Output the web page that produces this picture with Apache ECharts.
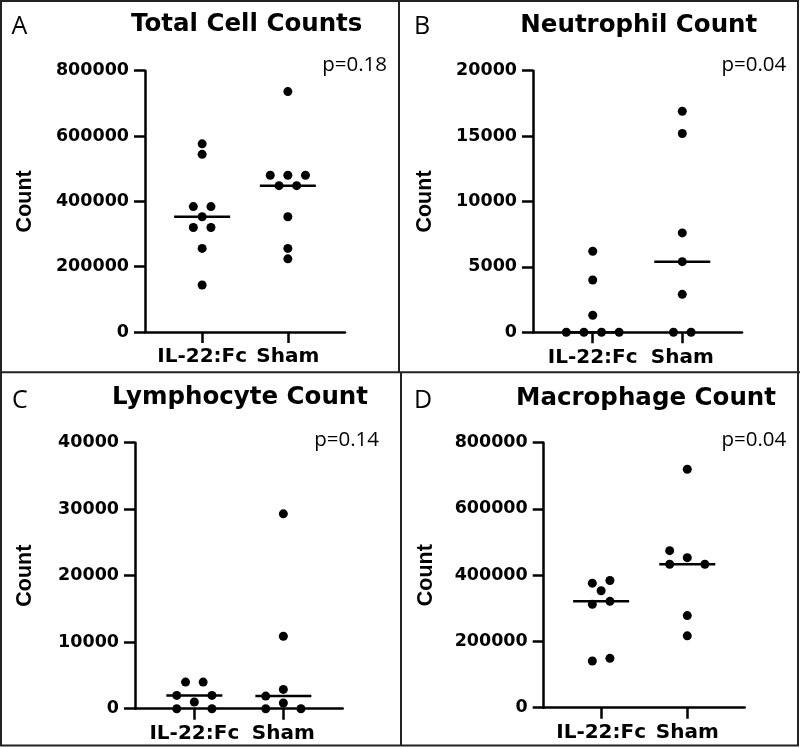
<!DOCTYPE html>
<html>
<head>
<meta charset="utf-8">
<script src="https://cdn.jsdelivr.net/npm/echarts@6/dist/echarts.min.js"></script>
<style>
html,body{margin:0;padding:0;background:#fff;}
#chart{width:800px;height:748px;}
</style>
</head>
<body>
<div id="chart"></div>
<script>
// ---------------- data ----------------
const groups = ['IL-22:Fc', 'Sham'];
const panelTitles = ['Total Cell Counts', 'Neutrophil Count', 'Lymphocyte Count', 'Macrophage Count'];
const panelLetters = ['A', 'B', 'C', 'D'];
const pValues = ['p=0.18', 'p=0.04', 'p=0.14', 'p=0.04'];
const yAxisName = 'Count';
const yMax = [800000, 20000, 40000, 800000];
const yStep = [200000, 5000, 10000, 200000];

const totalIL   = [576000, 544000, 384000, 384000, 353000, 320000, 320000, 256000, 144000];
const totalSham = [736000, 480000, 480000, 480000, 448000, 448000, 353000, 256000, 224000];
const neutIL    = [6200, 4000, 1300, 0, 0, 0, 0];
const neutSham  = [16900, 15200, 7600, 5400, 2900, 0, 0];
const lymphIL   = [4000, 4000, 2000, 2000, 1000, 0, 0];
const lymphSham = [29300, 10900, 2900, 1900, 850, 0, 0];
const macroIL   = [384000, 376000, 353000, 321000, 312000, 149000, 141000];
const macroSham = [720000, 474000, 453000, 433000, 433000, 278000, 217000];

const panelData = [
  [totalIL, totalSham],
  [neutIL, neutSham],
  [lymphIL, lymphSham],
  [macroIL, macroSham]
];

// ---------------- layout ----------------
const grids = [
  {left: 145,   top: 70.7,  width: 200,   height: 261.3},
  {left: 533,   top: 70.7,  width: 209,   height: 261.6},
  {left: 135,   top: 442.7, width: 207.7, height: 266},
  {left: 543.7, top: 442.7, width: 201,   height: 265}
];
const nameGaps = [109, 97, 99, 107];
const titlePos = [[246.7, 24.5], [638.8, 25.5], [240, 398], [646, 399]];
const letterPos = [[11.5, 27], [414, 27], [12, 400.5], [414, 401]];
const pPos = [[387, 65], [786.3, 65], [379, 440.5], [786.3, 440]];
const X_MIN = -2 / 3, X_MAX = 5 / 3;
const SLOT_PX = 8.8;      // half spacing between neighbouring dots
const ROW_TOL = 3.5;      // px: values closer than this share a row
const COLL = 7.5;         // px: vertical collision distance
const MED_HALF_PX = 28;   // half-length of median bar

function median(arr) {
  const s = arr.slice().sort((a, b) => a - b);
  const n = s.length;
  return n % 2 ? s[(n - 1) / 2] : (s[n / 2 - 1] + s[n / 2]) / 2;
}

// simple symmetric beeswarm, returns slot index per value
function swarm(vals, pxPerVal) {
  const idx = vals.map((v, i) => i).sort((a, b) => vals[a] - vals[b]);
  const rows = [];
  for (const i of idx) {
    const last = rows[rows.length - 1];
    if (last && (vals[i] - vals[last[0]]) * pxPerVal < ROW_TOL) last.push(i);
    else rows.push([i]);
  }
  const placed = [];
  const slot = new Array(vals.length).fill(0);
  const collides = (y, k) => placed.some(p => Math.abs(p.y - y) < COLL && Math.abs(p.k - k) < 1.999);
  const order = rows.filter(r => r.length % 2 === 1).concat(rows.filter(r => r.length % 2 === 0));
  for (const r of order) {
    const ys = r.map(i => vals[i] * pxPerVal);
    const n = r.length;
    let ks = null;
    if (n === 1) {
      for (const k of [0, -1, 1, -2, 2, -3, 3, -4, 4, -5, 5]) {
        if (!collides(ys[0], k)) { ks = [k]; break; }
      }
      if (!ks) ks = [0];
    } else {
      for (let e = 0; e < 10; e++) {
        const cand = r.map((_, j) => { const c = (j - (n - 1) / 2) * 2; return c + Math.sign(c) * e; });
        if (cand.every((k, j) => !collides(ys[j], k))) { ks = cand; break; }
      }
      if (!ks) ks = r.map((_, j) => (j - (n - 1) / 2) * 2);
    }
    r.forEach((i, j) => { slot[i] = ks[j]; placed.push({y: ys[j], k: ks[j]}); });
  }
  return slot;
}

const FONT_AX = '"DejaVu Sans", sans-serif';
const option = {
  animation: false,
  backgroundColor: '#fff',
  grid: grids.map(g => Object.assign({containLabel: false}, g)),
  xAxis: grids.map((g, p) => ({
    type: 'value', gridIndex: p, min: X_MIN, max: X_MAX,
    axisLine: {show: true, onZero: false, lineStyle: {color: '#000', width: 2.5}},
    axisTick: {show: true, customValues: [0, 1], length: 11, lineStyle: {color: '#000', width: 2.5}},
    axisLabel: {show: true, customValues: [0, 1], formatter: v => groups[Math.round(v)] || '',
      fontFamily: FONT_AX, fontWeight: 'bold', fontSize: 20, color: '#000', margin: 15},
    splitLine: {show: false}
  })),
  yAxis: grids.map((g, p) => ({
    type: 'value', gridIndex: p, min: 0, max: yMax[p], interval: yStep[p],
    name: yAxisName, nameLocation: 'middle', nameGap: nameGaps[p], nameRotate: 90,
    nameTextStyle: {fontFamily: '"Liberation Sans", Arial, sans-serif', fontWeight: 'bold', fontSize: 21.5, color: '#000'},
    axisLine: {show: true, onZero: false, lineStyle: {color: '#000', width: 2.5}},
    axisTick: {show: true, length: 11, lineStyle: {color: '#000', width: 2.5}},
    axisLabel: {fontFamily: FONT_AX, fontWeight: 'bold', fontSize: 17.5, color: '#000', margin: 16,
      formatter: v => String(v)},
    splitLine: {show: false}
  })),
  series: [],
  graphic: []
};

panelData.forEach((pair, p) => {
  const g = grids[p];
  const pxPerUnit = g.width / (X_MAX - X_MIN);
  const pxPerVal = g.height / yMax[p];
  const slotUnit = SLOT_PX / pxPerUnit;
  const medHalf = MED_HALF_PX / pxPerUnit;
  pair.forEach((vals, gi) => {
    const slots = swarm(vals, pxPerVal);
    option.series.push({
      type: 'scatter', xAxisIndex: p, yAxisIndex: p, clip: false,
      symbol: 'circle', symbolSize: 9,
      itemStyle: {color: '#000', opacity: 1},
      data: vals.map((v, i) => [gi + slots[i] * slotUnit, v]),
      z: 3
    });
    const m = median(vals);
    option.series.push({
      type: 'line', xAxisIndex: p, yAxisIndex: p, clip: false,
      symbol: 'none', silent: true,
      lineStyle: {color: '#000', width: 2.5},
      data: [[gi - medHalf, m], [gi + medHalf, m]],
      z: 4
    });
  });
  option.graphic.push({
    type: 'text', x: titlePos[p][0], y: titlePos[p][1],
    style: {text: panelTitles[p], font: 'bold 24.5px "DejaVu Sans", sans-serif', fill: '#000',
      textAlign: 'center', textVerticalAlign: 'middle'}
  });
  option.graphic.push({
    type: 'text', x: letterPos[p][0], y: letterPos[p][1],
    style: {text: panelLetters[p], font: '25px "Open Sans", sans-serif', fill: '#000',
      textAlign: 'left', textVerticalAlign: 'middle'}
  });
  option.graphic.push({
    type: 'text', x: pPos[p][0], y: pPos[p][1],
    style: {text: pValues[p], font: '20.5px "Open Sans", sans-serif', fill: '#000',
      textAlign: 'right', textVerticalAlign: 'middle'}
  });
});

// panel frames
option.graphic.push(
  {type: 'rect', shape: {x: 1, y: 1, width: 797, height: 744.5}, style: {fill: 'none', stroke: '#222', lineWidth: 2}},
  {type: 'line', shape: {x1: 399, y1: 0, x2: 399, y2: 372}, style: {stroke: '#222', lineWidth: 2}},
  {type: 'line', shape: {x1: 401, y1: 372, x2: 401, y2: 746}, style: {stroke: '#222', lineWidth: 2}},
  {type: 'line', shape: {x1: 0, y1: 372.3, x2: 800, y2: 372.3}, style: {stroke: '#222', lineWidth: 2}}
);

const chart = echarts.init(document.getElementById('chart'), null, {renderer: 'canvas'});
chart.setOption(option);
</script>
</body>
</html>
